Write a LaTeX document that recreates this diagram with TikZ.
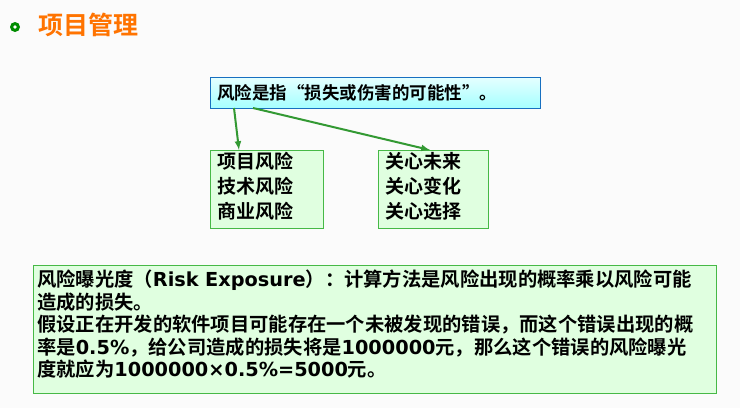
\documentclass[tikz,border=0pt]{standalone}
\usepackage{fontspec}
\newfontfamily\cjk{Noto Sans CJK SC}[BoldFont=* Bold]
\newfontfamily\lat{DejaVu Sans}
\newcommand{\ltx}[1]{{\lat\bfseries #1}}
\usetikzlibrary{calc}

\begin{document}
\begin{tikzpicture}[x=1pt,y=-1pt,
	greenbox/.style={draw=green!45!gray, fill=green!12},
	arr/.style={draw=green!50!black!80, line width=2pt, -latex}]

	%Background
	\useasboundingbox (0,0) rectangle (740,408);
	\fill[gray!3] (0,0) rectangle (740,408);

	%Title
	\fill[green!55!black] (15,27) circle [radius=5pt];
	\fill[white] (15,27) circle [radius=1.8pt];
	\node[anchor=west, text=orange!90!red, font=\cjk\bfseries\fontsize{25}{28}\selectfont, inner sep=0] (title) at (38,25) {项目管理};

	%Top box
	\draw[draw=cyan!50!blue, top color=cyan!10, bottom color=cyan!35] (210,77) rectangle (540,108);
	\node[anchor=west, font=\cjk\bfseries\fontsize{17.5}{20}\selectfont, inner sep=0] (risk) at (217,92.5) {风险是指“损失或伤害的可能性”。};

	%Lower boxes
	\draw[greenbox] (210,150) rectangle (323,228);
	\node[anchor=north west, align=left, font=\cjk\bfseries\fontsize{19}{25}\selectfont, inner sep=0] (kinds) at (217,152) {项目风险\\技术风险\\商业风险};
	\draw[greenbox] (378,150) rectangle (488,228);
	\node[anchor=north west, align=left, font=\cjk\bfseries\fontsize{19}{25}\selectfont, inner sep=0] (care) at (385,152) {关心未来\\关心变化\\关心选择};

	%Arrows
	\coordinate (a1) at (234,108);
	\coordinate (a2) at (253,108);
	\draw[arr] (a1) -- (239,150);
	\draw[arr] (a2) -- (430,150);

	%Exposure
	\draw[greenbox] (33,265) rectangle (716,393);
	\node[anchor=north west, align=left, text width=676pt, font=\cjk\bfseries\fontsize{19.3}{22.5}\selectfont, inner sep=0] (expo) at (37,270)
	{风险曝光度（\ltx{Risk Exposure}）：计算方法是风险出现的概率乘以风险可能\\造成的损失。\\假设正在开发的软件项目可能存在一个未被发现的错误，而这个错误出现的概\\率是\ltx{0.5\%}，给公司造成的损失将是\ltx{1000000}元，那么这个错误的风险曝光\\度就应为\ltx{1000000×0.5\%=5000}元。};

\end{tikzpicture}
\end{document}
